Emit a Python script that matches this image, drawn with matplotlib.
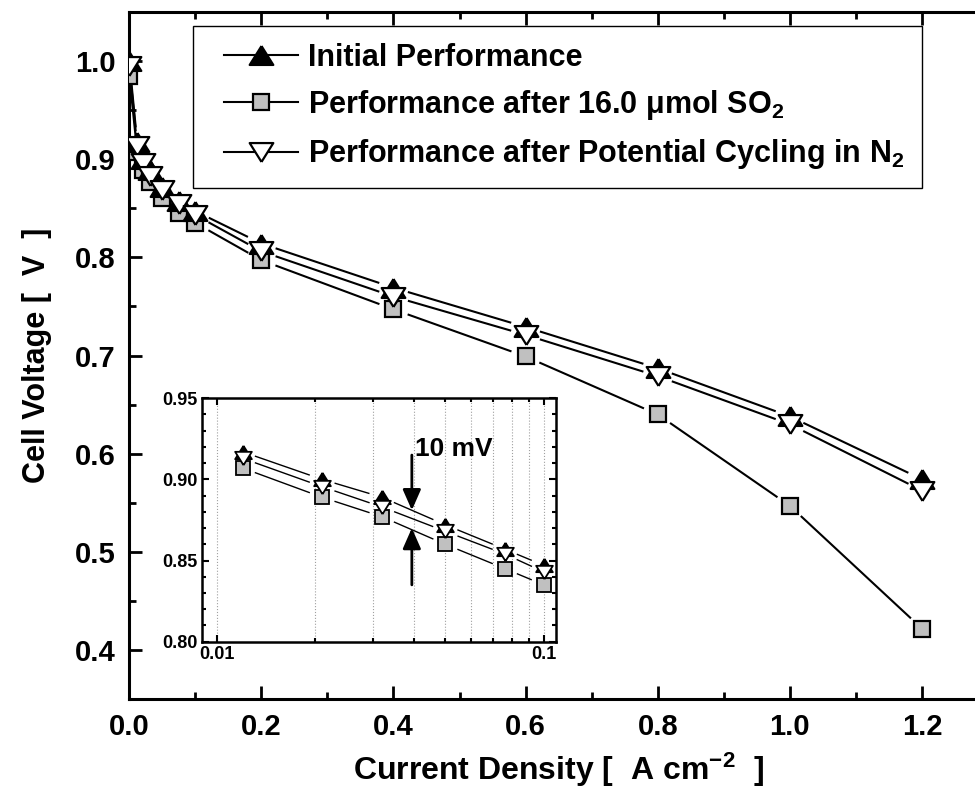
import matplotlib
matplotlib.use("Agg")
import matplotlib.pyplot as plt
import numpy as np
from matplotlib.collections import LineCollection
from matplotlib.lines import Line2D
from matplotlib.legend_handler import HandlerBase
from matplotlib.ticker import MultipleLocator, FixedLocator, NullFormatter

plt.rcParams['font.family'] = ['Liberation Sans', 'DejaVu Sans']
plt.rcParams['font.weight'] = 'bold'
plt.rcParams['mathtext.fontset'] = 'custom'
plt.rcParams['mathtext.rm'] = 'Liberation Sans:bold'
plt.rcParams['mathtext.it'] = 'Liberation Sans:bold'
plt.rcParams['mathtext.bf'] = 'Liberation Sans:bold'

# current density [A cm-2]
current = [0.0, 0.012, 0.021, 0.032, 0.05, 0.076, 0.1, 0.2, 0.4, 0.6, 0.8, 1.0, 1.2]
# cell voltage [V]
v_initial = [1.000, 0.917, 0.900, 0.889, 0.872, 0.857, 0.847, 0.814, 0.769, 0.729, 0.687, 0.638, 0.574]
v_so2 = [0.985, 0.907, 0.889, 0.877, 0.860, 0.845, 0.835, 0.797, 0.747, 0.699, 0.640, 0.547, 0.422]
v_cycled = [0.995, 0.913, 0.8955, 0.883, 0.868, 0.854, 0.843, 0.806, 0.760, 0.721, 0.679, 0.630, 0.5625]

labels = ["Initial Performance",
          "Performance after 16.0 μmol SO$_2$",
          "Performance after Potential Cycling in N$_2$"]

# wide, flat triangles like the original
up_tri = [(0, 0.8), (-1, -0.8), (1, -0.8), (0, 0.8)]
down_tri = [(0, -0.8), (-1, 0.8), (1, 0.8), (0, -0.8)]


def gapped(ax, x, y, gap):
    # line segments that stop short of each marker (Origin style)
    pts = ax.transData.transform(np.column_stack([x, y]))
    inv = ax.transData.inverted()
    segs = []
    for p0, p1 in zip(pts[:-1], pts[1:]):
        d = p1 - p0
        L = np.hypot(d[0], d[1])
        if L <= 2 * gap:
            continue
        u = d / L
        segs.append(inv.transform([p0 + u * gap, p1 - u * gap]))
    return segs


class OriginHandler(HandlerBase):
    # legend sample: short line with the marker in its middle, indented a bit
    def create_artists(self, legend, orig_handle, xdescent, ydescent,
                       width, height, fontsize, trans):
        x0 = -xdescent + 0.45 * fontsize
        x1 = -xdescent + width
        y = (height - ydescent) / 2
        line = Line2D([x0, x1], [y, y], color='black', lw=orig_handle.get_linewidth())
        mk = Line2D([(x0 + x1) / 2], [y], linestyle='none',
                    marker=orig_handle.get_marker(),
                    markersize=orig_handle.get_markersize(),
                    markerfacecolor=orig_handle.get_markerfacecolor(),
                    markeredgecolor='black',
                    markeredgewidth=orig_handle.get_markeredgewidth())
        line.set_transform(trans)
        mk.set_transform(trans)
        return [line, mk]


fig = plt.figure(figsize=(9.75, 7.97), dpi=100)
ax = fig.add_axes([0.1326, 0.1226, 0.8807, 0.8627])
ax.set_xlim(0, 1.3)
ax.set_ylim(0.35, 1.05)

styles = [
    (v_so2, 's', 12, '#c0c0c0'),
    (v_initial, up_tri, 17, 'black'),
    (v_cycled, down_tri, 17, 'white'),
]

for vals, mk, ms, fc in styles:
    lc = LineCollection(gapped(ax, current, vals, 15), colors='black', linewidths=1.5, zorder=2)
    ax.add_collection(lc)
for vals, mk, ms, fc in styles:
    ax.plot(current, vals, linestyle='none', marker=mk, markersize=ms,
            markerfacecolor=fc, markeredgecolor='black', markeredgewidth=1.6, zorder=3)

ax.xaxis.set_major_locator(FixedLocator([0, 0.2, 0.4, 0.6, 0.8, 1.0, 1.2]))
ax.xaxis.set_minor_locator(MultipleLocator(0.1))
ax.yaxis.set_major_locator(FixedLocator([0.4, 0.5, 0.6, 0.7, 0.8, 0.9, 1.0]))
ax.yaxis.set_minor_locator(MultipleLocator(0.05))
ax.xaxis.set_major_formatter(plt.FormatStrFormatter('%.1f'))
ax.yaxis.set_major_formatter(plt.FormatStrFormatter('%.1f'))
ax.tick_params(which='both', direction='in', top=True, right=True, width=2)
ax.tick_params(which='major', length=9.5, labelsize=21, pad=10)
ax.tick_params(which='minor', length=5)
for s in ax.spines.values():
    s.set_linewidth(2.2)

ax.set_xlabel("Current Density [  A cm$^{-2}$  ]", fontsize=23, fontweight='bold', labelpad=7)
ax.set_ylabel("Cell Voltage [  V  ]", fontsize=22, fontweight='bold', labelpad=16)

handles = [
    Line2D([], [], color='black', lw=1.5, marker=up_tri, markersize=17,
           markerfacecolor='black', markeredgecolor='black', markeredgewidth=1.6),
    Line2D([], [], color='black', lw=1.5, marker='s', markersize=12,
           markerfacecolor='#c0c0c0', markeredgecolor='black', markeredgewidth=1.6),
    Line2D([], [], color='black', lw=1.5, marker=down_tri, markersize=17,
           markerfacecolor='white', markeredgecolor='black', markeredgewidth=1.6),
]
leg = ax.legend(handles, labels, loc='upper left', bbox_to_anchor=(193 / 975, 1 - 26 / 797),
                bbox_transform=fig.transFigure, borderaxespad=0,
                prop={'weight': 'bold', 'size': 22}, handlelength=2.9, handletextpad=0.33,
                borderpad=0.55, labelspacing=0.5, fancybox=False, framealpha=1,
                handler_map={Line2D: OriginHandler()})
leg.get_frame().set_edgecolor('black')
leg.get_frame().set_linewidth(1.0)

# inset, log scale
ax_in = fig.add_axes([0.2069, 0.1949, 0.3634, 0.3054])
ax_in.set_xscale('log')
ax_in.set_xlim(0.009, 0.109)
ax_in.set_ylim(0.80, 0.95)

x_in = current[1:7]
in_styles = [
    (v_so2[1:7], 's', 9.5, '#c0c0c0'),
    (v_initial[1:7], up_tri, 12, 'black'),
    (v_cycled[1:7], down_tri, 12, 'white'),
]
for vals, mk, ms, fc in in_styles:
    lc = LineCollection(gapped(ax_in, x_in, vals, 13), colors='black', linewidths=1.0, zorder=2)
    ax_in.add_collection(lc)
for vals, mk, ms, fc in in_styles:
    ax_in.plot(x_in, vals, linestyle='none', marker=mk, markersize=ms,
               markerfacecolor=fc, markeredgecolor='black', markeredgewidth=1.3, zorder=3,
               clip_on=False)

ax_in.xaxis.set_major_locator(FixedLocator([0.01, 0.1]))
ax_in.xaxis.set_major_formatter(plt.FixedFormatter(['0.01', '0.1']))
ax_in.xaxis.set_minor_locator(FixedLocator([0.02, 0.03, 0.04, 0.05, 0.06, 0.07, 0.08, 0.09]))
ax_in.xaxis.set_minor_formatter(NullFormatter())
ax_in.yaxis.set_major_locator(FixedLocator([0.80, 0.85, 0.90, 0.95]))
ax_in.yaxis.set_minor_locator(MultipleLocator(0.01))
ax_in.yaxis.set_major_formatter(plt.FormatStrFormatter('%.2f'))
ax_in.grid(True, axis='x', which='both', color='#a0a0a0', linestyle=':', linewidth=0.8)
ax_in.tick_params(which='both', direction='in', top=True, right=True, width=1.5)
ax_in.tick_params(which='major', length=5, labelsize=13, pad=3)
ax_in.tick_params(which='minor', length=3)
for s in ax_in.spines.values():
    s.set_linewidth(1.8)

arrow = dict(arrowstyle='-|>,head_length=0.5,head_width=0.22', color='black', lw=2,
             mutation_scale=25, shrinkA=0, shrinkB=0)
ax_in.annotate('', xy=(0.0395, 0.881), xytext=(0.0395, 0.915), arrowprops=arrow)
ax_in.annotate('', xy=(0.0395, 0.870), xytext=(0.0395, 0.835), arrowprops=arrow)
ax_in.text(0.0405, 0.919, '10 mV', fontsize=19, fontweight='bold', ha='left', va='center')

fig.savefig('out.png', dpi=100)
